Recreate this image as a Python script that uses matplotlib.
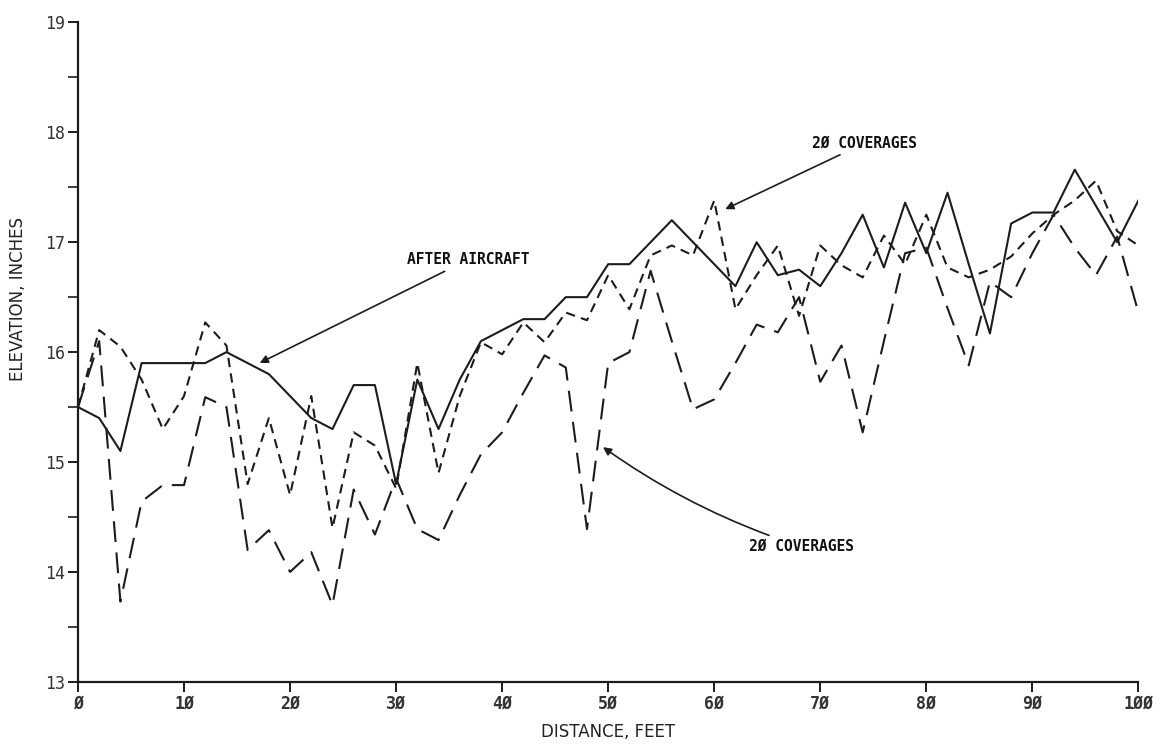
import matplotlib
matplotlib.use("Agg")
import matplotlib.pyplot as plt

# distance, feet (every 2 ft)
distance = list(range(0, 101, 2))

after_aircraft = [15.5, 15.4, 15.1, 15.9, 15.9, 15.9, 15.9, 16.0, 15.9, 15.8,
                  15.6, 15.4, 15.3, 15.7, 15.7, 14.8, 15.75, 15.3, 15.75, 16.1,
                  16.2, 16.3, 16.3, 16.5, 16.5, 16.8, 16.8, 17.0, 17.2, 17.0,
                  16.8, 16.6, 17.0, 16.7, 16.75, 16.6, 16.9, 17.25, 16.77, 17.36,
                  16.9, 17.45, 16.8, 16.17, 17.17, 17.27, 17.27, 17.66, 17.33, 17.0,
                  17.38]

cov_upper = [15.5, 16.2, 16.05, 15.75, 15.3, 15.6, 16.27, 16.06, 14.8, 15.4,
             14.7, 15.6, 14.4, 15.27, 15.15, 14.76, 15.9, 14.9, 15.6, 16.09,
             15.98, 16.27, 16.09, 16.36, 16.29, 16.7, 16.39, 16.88, 16.97, 16.88,
             17.38, 16.39, 16.7, 16.97, 16.33, 16.97, 16.79, 16.68, 17.06, 16.8,
             17.25, 16.77, 16.68, 16.75, 16.87, 17.08, 17.25, 17.38, 17.56, 17.1,
             16.97]

cov_lower = [15.5, 16.1, 13.73, 14.64, 14.79, 14.79, 15.59, 15.5, 14.2, 14.38,
             14.0, 14.18, 13.7, 14.75, 14.34, 14.85, 14.39, 14.29, 14.7, 15.07,
             15.27, 15.63, 15.97, 15.86, 14.39, 15.9, 16.0, 16.74, 16.1, 15.48,
             15.57, 15.9, 16.25, 16.18, 16.5, 15.73, 16.06, 15.27, 16.1, 16.9,
             16.95, 16.4, 15.88, 16.64, 16.5, 16.9, 17.25, 16.95, 16.7, 17.05,
             16.36]

x_ticks = list(range(0, 101, 10))
y_ticks = list(range(13, 20))

ink = "#1c1c1c"
fig = plt.figure(figsize=(11.64, 7.46), dpi=100)
ax = fig.add_axes([0.067, 0.086, 0.911, 0.884])

ax.plot(distance, after_aircraft, color=ink, lw=1.5)
ax.plot(distance, cov_upper, color=ink, lw=1.5, dashes=(4.5, 3))
ax.plot(distance, cov_lower, color=ink, lw=1.5, dashes=(10, 5))

ax.set_xlim(0, 100)
ax.set_ylim(13, 19)
ax.set_xticks(x_ticks)
ax.set_yticks(y_ticks)
ax.set_yticks([v + 0.5 for v in y_ticks[:-1]], minor=True)
ax.set_xticklabels([str(v).replace("0", "Ø") for v in x_ticks],
                   family="DejaVu Sans Mono", fontsize=12, weight="bold", color="#333")
ax.set_yticklabels([str(v) for v in y_ticks], family="DejaVu Sans Mono",
                   fontsize=12, color="#333")
ax.tick_params(axis="both", which="major", length=7, width=1.4, color=ink, pad=2)
ax.tick_params(axis="y", which="minor", length=7, width=1.2, color=ink)
for s in ["top", "right"]:
    ax.spines[s].set_visible(False)
for s in ["left", "bottom"]:
    ax.spines[s].set_linewidth(1.6)
    ax.spines[s].set_color(ink)

ax.set_xlabel("DISTANCE, FEET", fontsize=12, color="#222", labelpad=8)
ax.set_ylabel("ELEVATION, INCHES", fontsize=12, color="#222")
ax.yaxis.set_label_coords(-0.048, 0.58)

# annotations
lbl = dict(fontsize=10.5, weight="bold", family="DejaVu Sans Mono", color="#111",
           va="center", ha="left")
arr = dict(arrowstyle="-|>", color=ink, lw=1.2, mutation_scale=12)
ax.annotate("AFTER AIRCRAFT", xy=(16.9, 15.89), xytext=(31.0, 16.84),
            arrowprops=arr, **lbl)
ax.annotate("2Ø COVERAGES", xy=(60.8, 17.29), xytext=(69.2, 17.9),
            arrowprops=arr, **lbl)
ax.annotate("2Ø COVERAGES", xy=(49.3, 15.15), xytext=(63.3, 14.23),
            arrowprops=dict(arr, connectionstyle="arc3,rad=-0.08"), **lbl)

fig.savefig("out.png", dpi=100)
